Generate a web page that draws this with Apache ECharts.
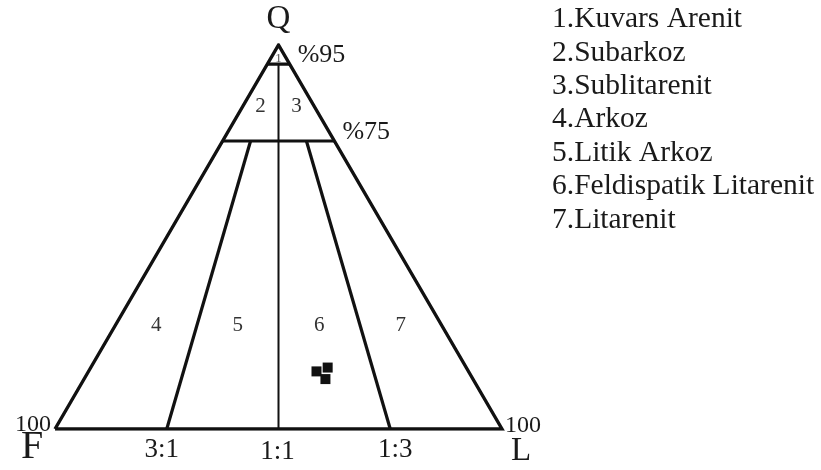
<!DOCTYPE html>
<html>
<head>
<meta charset="utf-8">
<title>QFL</title>
<script src="https://cdn.jsdelivr.net/npm/echarts@6/dist/echarts.min.js"></script>
<style>
  html, body { margin: 0; padding: 0; background: #fff; }
  #chart { width: 821px; height: 470px; }
</style>
</head>
<body>
<div id="chart"></div>
<script>
// Q (quartz) boundaries in percent
const Q_LEVELS = [95, 75];
// F:L ratio boundaries
const RATIO_LABELS = ['3:1', '1:1', '1:3'];
const RATIO_F = [3, 1, 1];
const RATIO_L = [1, 1, 3];
// Class names (numbered fields)
const CLASS_NAMES = [
  'Kuvars Arenit', 'Subarkoz', 'Sublitarenit', 'Arkoz',
  'Litik Arkoz', 'Feldispatik Litarenit', 'Litarenit'
];
// Samples: Q, F, L percentages
const SAMPLE_Q = [15, 16, 13];
const SAMPLE_F = [34, 31, 33];
const SAMPLE_L = [51, 53, 54];

const SERIF = '"Liberation Serif", "DejaVu Serif", serif';
const INK = '#111';
const TEXT = '#1a1a1a';

// ternary (Q, F, L) -> cartesian plot values; F at left, L at right, Q at top
function toXY(q, f, l) {
  const s = q + f + l;
  q = q / s * 100; l = l / s * 100;
  return [l + q / 2, q];
}
// point on a constant F:L ratio line at a given Q level
function ratioPoint(q, f, l) {
  return toXY(q, (100 - q) * f / (f + l), (100 - q) * l / (f + l));
}

const series = [];
function seg(points, width) {
  series.push({
    type: 'line', data: points, showSymbol: false, silent: true,
    lineStyle: { color: INK, width: width, join: 'miter', miterLimit: 10, cap: 'butt' },
    z: 2
  });
}

// outer triangle F -> L -> Q -> F
seg([toXY(0, 100, 0), toXY(0, 0, 100), toXY(100, 0, 0), toXY(0, 100, 0)], 3.4);
// horizontal Q boundaries
Q_LEVELS.forEach(q => seg([toXY(q, 100 - q, 0), toXY(q, 0, 100 - q)], 3.2));
// F:L ratio lines (1:1 runs up to the upper Q boundary)
RATIO_LABELS.forEach((lab, i) => {
  const top = RATIO_F[i] === RATIO_L[i] ? Q_LEVELS[0] : Q_LEVELS[1];
  seg([ratioPoint(0, RATIO_F[i], RATIO_L[i]), ratioPoint(top, RATIO_F[i], RATIO_L[i])],
      RATIO_F[i] === RATIO_L[i] ? 2 : 3.2);
});

// text anchored to data points
function textSeries(items) {
  series.push({
    type: 'scatter', symbolSize: 0, silent: true, z: 5,
    itemStyle: { opacity: 1 },
    data: items.map(it => ({
      value: it.at,
      label: Object.assign({
        show: true, position: 'inside', formatter: it.text, opacity: 1,
        fontFamily: SERIF, color: TEXT, align: 'center', verticalAlign: 'middle'
      }, it.style)
    }))
  });
}

const texts = [];
// vertex letters and 100 marks
texts.push({ at: toXY(100, 0, 0), text: 'Q', style: { fontSize: 33, offset: [0, -26] } });
texts.push({ at: toXY(0, 100, 0), text: 'F', style: { fontSize: 40, offset: [-23, 18] } });
texts.push({ at: toXY(0, 0, 100), text: 'L', style: { fontSize: 33, offset: [19, 22] } });
texts.push({ at: toXY(0, 100, 0), text: '100', style: { fontSize: 24, align: 'right', offset: [-4, -4] } });
texts.push({ at: toXY(0, 0, 100), text: '100', style: { fontSize: 24, align: 'left', offset: [3, -3] } });
// ratio labels under the base
const ratioOffsets = [[-5, 21], [-1, 23], [5, 21]];
RATIO_LABELS.forEach((lab, i) => {
  texts.push({ at: ratioPoint(0, RATIO_F[i], RATIO_L[i]), text: lab,
    style: { fontSize: 27, offset: ratioOffsets[i] } });
});
// Q boundary labels to the right of the L–Q side
Q_LEVELS.forEach(q => {
  texts.push({ at: toXY(q, 0, 100 - q), text: '%' + q,
    style: { fontSize: 26, align: 'left', offset: [8, -9] } });
});

// field numbers, centred between neighbouring boundaries
const bandRatios = [[1, 0], [3, 1], [1, 1], [1, 3], [0, 1]];
function bandMid(q, a, b) {
  const p = ratioPoint(q, a[0], a[1]), r = ratioPoint(q, b[0], b[1]);
  return [(p[0] + r[0]) / 2, q];
}
const numStyle = { fontSize: 21, color: '#333' };
texts.push({ at: toXY(96.4, 1.8, 1.8), text: '1', style: { fontSize: 13, color: '#555' } });
texts.push({ at: bandMid(84, [1, 0], [1, 1]), text: '2', style: numStyle });
texts.push({ at: bandMid(84, [1, 1], [0, 1]), text: '3', style: numStyle });
for (let i = 0; i < 4; i++) {
  texts.push({ at: bandMid(27, bandRatios[i], bandRatios[i + 1]), text: String(i + 4), style: numStyle });
}
textSeries(texts);

// samples
series.push({
  type: 'scatter', symbol: 'rect', symbolSize: 10, z: 4,
  itemStyle: { color: INK, opacity: 1 },
  data: SAMPLE_Q.map((q, i) => toXY(q, SAMPLE_F[i], SAMPLE_L[i]))
});

// numbered class list
const graphic = CLASS_NAMES.map((name, i) => ({
  type: 'text', x: 552, y: 19.5 + i * 33.4, silent: true,
  style: {
    text: (i + 1) + '.' + name, font: '29.5px ' + SERIF, fill: TEXT,
    align: 'left', verticalAlign: 'middle'
  }
}));

const chart = echarts.init(document.getElementById('chart'), null, { renderer: 'canvas' });
chart.setOption({
  animation: false,
  backgroundColor: '#fff',
  grid: { left: 55, right: 319, top: 45, bottom: 41 },
  xAxis: { type: 'value', min: 0, max: 100, show: false },
  yAxis: { type: 'value', min: 0, max: 100, show: false },
  graphic: graphic,
  series: series
});
</script>
</body>
</html>
